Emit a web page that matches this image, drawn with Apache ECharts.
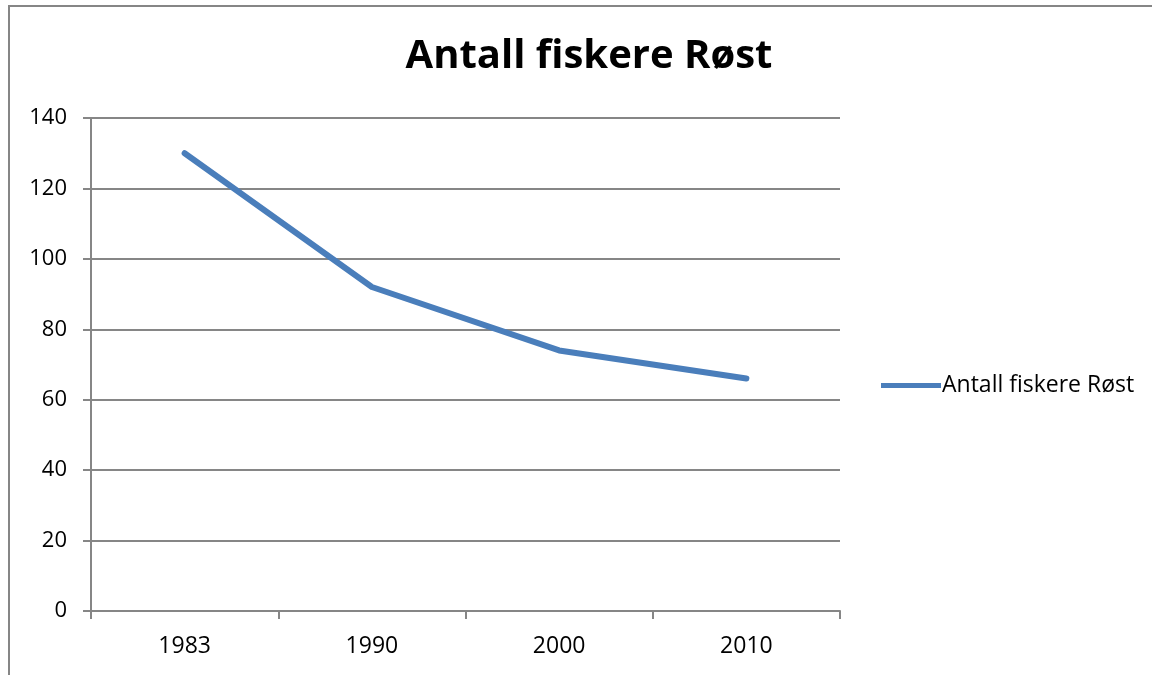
<!DOCTYPE html>
<html>
<head>
<meta charset="utf-8">
<script src="https://cdn.jsdelivr.net/npm/echarts@6/dist/echarts.min.js"></script>
<style>
html,body{margin:0;padding:0;background:#fff;}
#chart{width:1152px;height:675px;}
</style>
</head>
<body>
<div id="chart"></div>
<script>
var years = ['1983', '1990', '2000', '2010'];
var fiskere = [130, 92, 74, 66];
var yTicks = [0, 20, 40, 60, 80, 100, 120, 140];

var fontName = '"Open Sans", "Liberation Sans", sans-serif';
var grey = '#868686';

// 基于准备好的dom，初始化echarts实例
var myChart = echarts.init(document.getElementById('chart'));

var option = {
    backgroundColor: '#fff',
    animation: false,
    title: {
        text: 'Antall fiskere Røst',
        left: 584,
        top: 32,
        textAlign: 'center',
        textStyle: { fontFamily: fontName, fontSize: 40, fontWeight: 'bold', color: '#000' }
    },
    legend: {
        left: 876,
        top: 369,
        itemWidth: 60,
        itemHeight: 5,
        itemGap: 0,
        icon: 'rect',
        textStyle: { fontFamily: fontName, fontSize: 23, color: '#000', padding: [0, 0, 0, -4] },
        data: ['Antall fiskere Røst']
    },
    grid: {
        left: 91,
        right: 312,
        top: 118,
        bottom: 64,
        containLabel: false
    },
    xAxis: {
        type: 'category',
        data: years,
        boundaryGap: true,
        axisLine: { lineStyle: { color: grey, width: 2 } },
        axisTick: { show: true, inside: false, length: 8, lineStyle: { color: grey, width: 2 } },
        axisLabel: { fontFamily: fontName, fontSize: 23, color: '#000', margin: 24 },
        splitLine: { show: false }
    },
    yAxis: {
        type: 'value',
        min: yTicks[0],
        max: yTicks[yTicks.length - 1],
        interval: 20,
        axisLine: { show: true, lineStyle: { color: grey, width: 2 } },
        axisTick: { show: true, length: 8, lineStyle: { color: grey, width: 2 } },
        axisLabel: { fontFamily: fontName, fontSize: 22, color: '#000', margin: 24 },
        splitLine: { show: true, lineStyle: { color: grey, width: 2 } }
    },
    graphic: [
        {
            type: 'polyline',
            shape: { points: [[9, 680], [9, 6], [1160, 6]] },
            style: { stroke: grey, lineWidth: 2, fill: null }
        }
    ],
    series: [{
        name: 'Antall fiskere Røst',
        type: 'line',
        data: fiskere,
        symbol: 'none',
        lineStyle: { color: '#4a7ebb', width: 6, cap: 'round', join: 'round' },
        itemStyle: { color: '#4a7ebb' }
    }]
};

myChart.setOption(option);
</script>
</body>
</html>
